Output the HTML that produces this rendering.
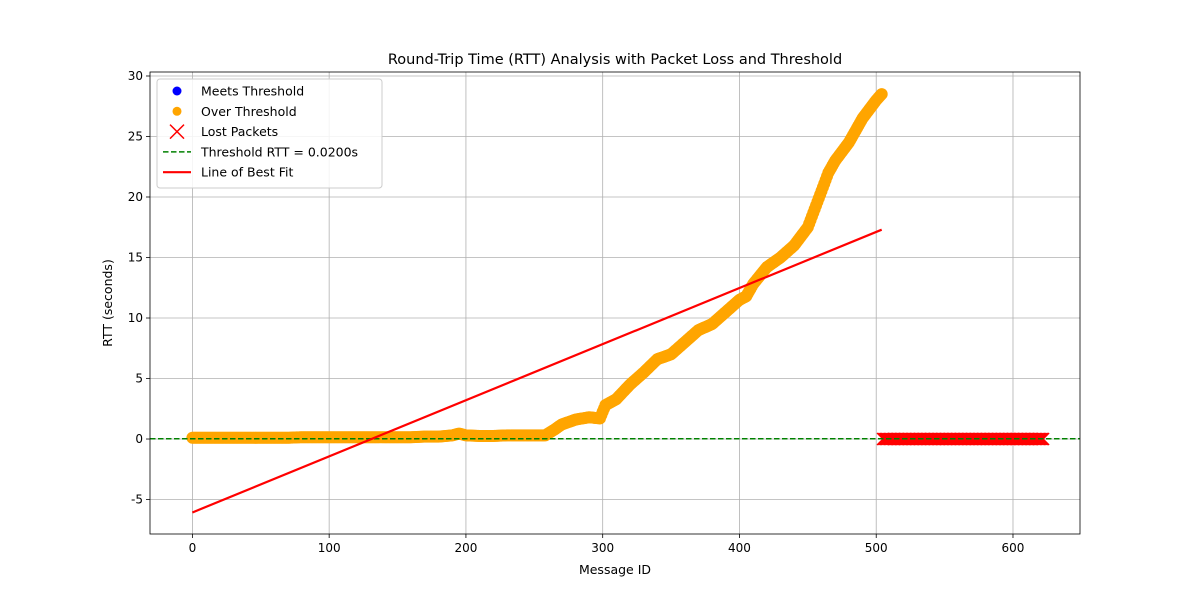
<!DOCTYPE html>
<html><head><meta charset="utf-8"><style>
body{margin:0;background:#fff;font-family:"Liberation Sans","DejaVu Sans",sans-serif}
svg text{font-family:"DejaVu Sans","Liberation Sans",sans-serif}
</style></head><body>
<svg id="c" width="1200" height="600"></svg>
<script>
const msgIds=[0,10,20,30,40,50,60,70,80,90,100,110,120,130,140,150,160,170,180,190,195,200,210,220,230,240,250,258,265,270,280,290,298,302,310,320,330,340,350,360,370,380,390,400,405,410,420,430,440,450,455,460,465,470,480,490,500,504];
const rttVals=[0.1,0.1,0.1,0.1,0.1,0.1,0.1,0.1,0.15,0.15,0.15,0.15,0.15,0.15,0.15,0.15,0.15,0.2,0.2,0.3,0.45,0.3,0.25,0.25,0.3,0.3,0.3,0.3,0.8,1.2,1.6,1.8,1.7,2.8,3.3,4.5,5.5,6.6,7.0,8.0,9.0,9.5,10.5,11.5,11.8,12.8,14.2,15.0,16.0,17.5,19.0,20.5,22.0,23.0,24.5,26.5,28.0,28.5];
const lostStart=505, lostEnd=622;
const fitX=[0,504], fitY=[-6.07,17.3];
const threshold=0.02;
const xTicks=[0,100,200,300,400,500,600];
const yTicks=[-5,0,5,10,15,20,25,30];

const NS="http://www.w3.org/2000/svg";
const svg=document.getElementById('c');
const L=150,R=1080,T=72,B=534,x0=-31,x1=649,y0=-7.85,y1=30.33;
const sx=v=>L+(v-x0)/(x1-x0)*(R-L);
const sy=v=>B-(v-y0)/(y1-y0)*(B-T);
function el(t,a,p){const e=document.createElementNS(NS,t);for(const k in a)e.setAttribute(k,a[k]);(p||svg).appendChild(e);return e;}

const grid=el('g',{});


xTicks.forEach(t=>{
  el('line',{x1:sx(t),x2:sx(t),y1:T,y2:B,stroke:'#b0b0b0','stroke-width':0.8},grid);
  el('line',{x1:sx(t),x2:sx(t),y1:B,y2:B+4,stroke:'#000','stroke-width':0.8});
  const tx=el('text',{x:sx(t),y:B+18,'text-anchor':'middle','font-size':12});tx.textContent=t;
  
  
});
yTicks.forEach(t=>{
  el('line',{x1:L,x2:R,y1:sy(t),y2:sy(t),stroke:'#b0b0b0','stroke-width':0.8},grid);
  el('line',{x1:L-4,x2:L,y1:sy(t),y2:sy(t),stroke:'#000','stroke-width':0.8});
  const tx=el('text',{x:L-7,y:sy(t)+4,'text-anchor':'end','font-size':12});tx.textContent=t;
  
  
});

// orange points
const pts=el('g',{fill:'orange'});


for(let i=0;i<msgIds.length-1;i++){
  const n=Math.max(1,Math.round((msgIds[i+1]-msgIds[i])));
  for(let k=0;k<n;k++){
    const f=k/n;
    const x=msgIds[i]+f*(msgIds[i+1]-msgIds[i]);
    const y=rttVals[i]+f*(rttVals[i+1]-rttVals[i]);
    el('circle',{cx:sx(x),cy:sy(y),r:6},pts);
  }
}
el('circle',{cx:sx(msgIds[msgIds.length-1]),cy:sy(rttVals[rttVals.length-1]),r:6},pts);

// lost packets
const lost=el('g',{stroke:'red','stroke-width':1.5});


for(let m=lostStart;m<=lostEnd;m++){
  const cx=sx(m),cy=sy(0),d=6;
  el('path',{d:`M${cx-d},${cy-d}L${cx+d},${cy+d}M${cx-d},${cy+d}L${cx+d},${cy-d}`},lost);
}

const th=el('line',{x1:L,x2:R,y1:sy(threshold),y2:sy(threshold),stroke:'green','stroke-width':1.5,'stroke-dasharray':'5.5,2.5'});


const fit=el('line',{x1:sx(fitX[0]),y1:sy(fitY[0]),x2:sx(fitX[1]),y2:sy(fitY[1]),stroke:'red','stroke-width':2.2});



const frame=el('rect',{x:L,y:T,width:R-L,height:B-T,fill:'none',stroke:'#000','stroke-width':0.8});



const title=el('text',{x:615,y:64,'text-anchor':'middle','font-size':14.5});title.textContent='Round-Trip Time (RTT) Analysis with Packet Loss and Threshold';


const xl=el('text',{x:615,y:574,'text-anchor':'middle','font-size':12.5});xl.textContent='Message ID';


const yl=el('text',{x:112,y:303,'text-anchor':'middle','font-size':12.5,transform:'rotate(-90 112 303)'});yl.textContent='RTT (seconds)';



// legend
const lg=el('g',{});


el('rect',{x:157,y:79,width:225,height:109,rx:3,fill:'#fff','fill-opacity':0.85,stroke:'#ccc'},lg);
const labels=['Meets Threshold','Over Threshold','Lost Packets','Threshold RTT = 0.0200s','Line of Best Fit'];
labels.forEach((s,i)=>{
  const y=91+i*20.3;
  if(i===0) el('circle',{cx:177,cy:y,r:4.5,fill:'blue'},lg);
  if(i===1) el('circle',{cx:177,cy:y,r:4.5,fill:'orange'},lg);
  if(i===2) el('path',{d:`M170,${y-7}L184,${y+7}M170,${y+7}L184,${y-7}`,stroke:'red','stroke-width':1.5},lg);
  if(i===3) el('line',{x1:163,x2:191,y1:y,y2:y,stroke:'green','stroke-width':1.5,'stroke-dasharray':'5.5,2.5'},lg);
  if(i===4) el('line',{x1:163,x2:191,y1:y,y2:y,stroke:'red','stroke-width':2.2},lg);
  const t=el('text',{x:201,y:y+4.5,'font-size':12.5},lg);t.textContent=s;
  
  
});
</script>
</body></html>
